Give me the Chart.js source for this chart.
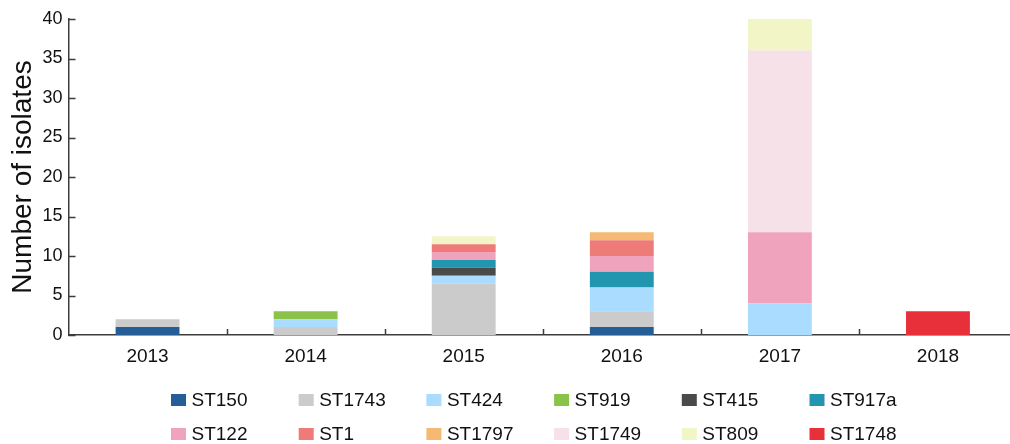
<!DOCTYPE html>
<html>
<head>
<meta charset="utf-8">
<script src="https://cdn.jsdelivr.net/npm/chart.js@4/dist/chart.umd.min.js"></script>
<style>
html,body{margin:0;padding:0;background:#fff;overflow:hidden;width:1010px;height:444px;}
canvas{display:block;}
</style>
</head>
<body>
<canvas id="c" width="1018" height="444"></canvas>
<script>
const years = ['2013','2014','2015','2016','2017','2018'];
const seriesNames = ['ST150','ST1743','ST424','ST919','ST415','ST917a','ST122','ST1','ST1797','ST1749','ST809','ST1748'];
const ST150  = [1, 0, 0,   1, 0,  0];
const ST1743 = [1, 1, 6.5, 2, 0,  0];
const ST424  = [0, 1, 1,   3, 4,  0];
const ST919  = [0, 1, 0,   0, 0,  0];
const ST415  = [0, 0, 1,   0, 0,  0];
const ST917a = [0, 0, 1,   2, 0,  0];
const ST122  = [0, 0, 1,   2, 9,  0];
const ST1    = [0, 0, 1,   2, 0,  0];
const ST1797 = [0, 0, 0,   1, 0,  0];
const ST1749 = [0, 0, 0,   0, 23, 0];
const ST809  = [0, 0, 1,   0, 4,  0];
const ST1748 = [0, 0, 0,   0, 0,  3];
const seriesValues = [ST150, ST1743, ST424, ST919, ST415, ST917a, ST122, ST1, ST1797, ST1749, ST809, ST1748];
const seriesColors = ['#255E96','#CBCBCB','#AADCFF','#8BC34A','#4A4A4A','#2196AE','#F0A3BD','#EE7B78','#F5B973','#F6E1E8','#F2F5C6','#E8303A'];
const yTicks = [0,5,10,15,20,25,30,35,40];

const FONT = '"Liberation Sans", Arial, sans-serif';
const AXIS_COLOR = '#3c3c3c';

const datasets = seriesNames.map((n,i)=>({
  label: n,
  data: seriesValues[i].map(v => v === 0 ? null : v),
  backgroundColor: seriesColors[i],
  borderWidth: 0,
  barPercentage: 0.404,
  categoryPercentage: 1.0,
  stack: 's'
}));

const tickPlugin = {
  id: 'innerTicks',
  afterDatasetsDraw(chart){
    const ctx = chart.ctx;
    const xs = chart.scales.x, ys = chart.scales.y;
    const area = chart.chartArea;
    ctx.save();
    ctx.strokeStyle = AXIS_COLOR;
    ctx.lineWidth = 1.5;
    ctx.beginPath();
    yTicks.forEach(v=>{
      const y = Math.round(ys.getPixelForValue(v)) + 0.5;
      ctx.moveTo(area.left, y);
      ctx.lineTo(area.left + 7, y);
    });
    for (let i = 1; i < years.length; i++){
      const x = Math.round((xs.getPixelForValue(i-1) + xs.getPixelForValue(i)) / 2) + 0.5;
      ctx.moveTo(x, area.bottom);
      ctx.lineTo(x, area.bottom - 6);
    }
    ctx.stroke();
    ctx.restore();
  }
};

const legendPlugin = {
  id: 'gridLegend',
  afterDraw(chart){
    const ctx = chart.ctx;
    ctx.save();
    ctx.font = '19px ' + FONT;
    ctx.textBaseline = 'middle';
    ctx.textAlign = 'left';
    const x0 = 171, colW = 127.7, rowY = [400, 434];
    seriesNames.forEach((n,i)=>{
      const col = i % 6, row = Math.floor(i / 6);
      const x = x0 + col * colW, y = rowY[row];
      ctx.fillStyle = seriesColors[i];
      ctx.fillRect(x, y - 6, 15, 12);
      ctx.fillStyle = '#111';
      ctx.fillText(n, x + 20.5, y + 1);
    });
    ctx.restore();
  }
};

new Chart(document.getElementById('c'), {
  type: 'bar',
  data: { labels: years, datasets },
  options: {
    responsive: false,
    animation: false,
    layout: { padding: { top: 19, right: 1, left: 0, bottom: 0 } },
    plugins: { legend: { display: false }, tooltip: { enabled: false } },
    scales: {
      x: {
        stacked: true,
        offset: true,
        grid: { display: false, drawTicks: false },
        border: { display: true, color: AXIS_COLOR, width: 1.5 },
        ticks: { color: '#111', font: { family: FONT, size: 19 }, padding: 10, maxRotation: 0 },
        afterFit(s){ s.height = 109; }
      },
      y: {
        stacked: true,
        min: 0, max: 40,
        afterBuildTicks(s){ s.ticks = yTicks.map(v=>({value:v})); },
        grid: { display: false, drawTicks: false },
        border: { display: true, color: AXIS_COLOR, width: 1.5 },
        ticks: { color: '#111', font: { family: FONT, size: 18 }, padding: 6 },
        title: { display: true, text: 'Number of isolates', color: '#111', font: { family: FONT, size: 28 }, padding: { top: 6, bottom: 0 } },
        afterFit(s){ s.width = 68.5; }
      }
    }
  },
  plugins: [tickPlugin, legendPlugin]
});
</script>
</body>
</html>
